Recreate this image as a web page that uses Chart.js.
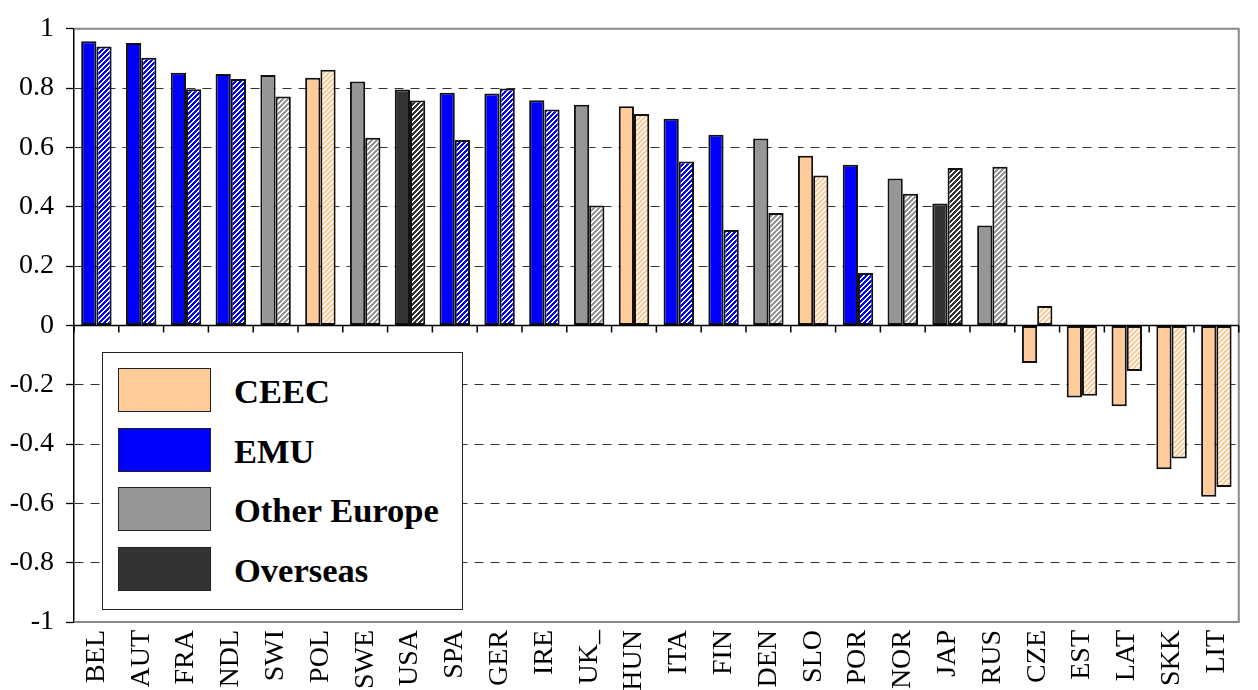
<!DOCTYPE html>
<html lang="en">
<head>
    <meta charset="UTF-8">
    <title>Correlation by country</title>
    <script src="https://cdn.jsdelivr.net/npm/chart.js"></script>
    <style>
        body { margin: 0; background: #fff; overflow: hidden; }
        .wrap { position: relative; width: 1258px; height: 690px; }
        .legend {
            position: absolute; left: 102px; top: 352px; width: 359px; height: 256px;
            background: #fff; border: 1.5px solid #222;
            font-family: "Liberation Serif", "Times New Roman", serif;
        }
        .legend .item { position: absolute; left: 15px; height: 44px; }
        .legend .swatch {
            position: absolute; left: 0; top: 0; width: 91px; height: 42px;
            border: 1.5px solid #222;
        }
        .legend .label {
            position: absolute; left: 116px; top: 1px; line-height: 44px;
            font-size: 34.5px; font-weight: bold; color: #000; white-space: nowrap;
        }
    </style>
</head>
<body>
    <div class="wrap">
        <canvas id="barChart" width="1258" height="690"></canvas>
        <div class="legend" id="legend"></div>
    </div>

    <script>
        // countries, in the order of the picture
        const categories = ['BEL', 'AUT', 'FRA', 'NDL', 'SWI', 'POL', 'SWE', 'USA', 'SPA', 'GER', 'IRE', 'UK_', 'HUN',
            'ITA', 'FIN', 'DEN', 'SLO', 'POR', 'NOR', 'JAP', 'RUS', 'CZE', 'EST', 'LAT', 'SKK', 'LIT'];

        const groups = ['EMU', 'EMU', 'EMU', 'EMU', 'Other Europe', 'CEEC', 'Other Europe', 'Overseas', 'EMU', 'EMU',
            'EMU', 'Other Europe', 'CEEC', 'EMU', 'EMU', 'Other Europe', 'CEEC', 'EMU', 'Other Europe', 'Overseas',
            'Other Europe', 'CEEC', 'CEEC', 'CEEC', 'CEEC', 'CEEC'];

        // solid bars
        const solidValues = [0.958, 0.952, 0.852, 0.848, 0.844, 0.835, 0.822, 0.795, 0.784, 0.782, 0.759, 0.744, 0.739,
            0.697, 0.643, 0.630, 0.572, 0.542, 0.495, 0.411, 0.337, -0.127, -0.243, -0.273, -0.485, -0.578];

        // hatched bars
        const hatchedValues = [0.940, 0.902, 0.796, 0.831, 0.772, 0.862, 0.633, 0.758, 0.625, 0.799, 0.728, 0.404, 0.713,
            0.553, 0.322, 0.379, 0.505, 0.177, 0.444, 0.531, 0.535, 0.065, -0.237, -0.154, -0.449, -0.545];

        const legendGroups = ['CEEC', 'EMU', 'Other Europe', 'Overseas'];
        const yTicks = [-1, -0.8, -0.6, -0.4, -0.2, 0, 0.2, 0.4, 0.6, 0.8, 1];

        const groupColors = {
            'CEEC': '#FFCC99',
            'EMU': '#0000FF',
            'Other Europe': '#969696',
            'Overseas': '#333333'
        };

        const serif = '"Liberation Serif", "Times New Roman", serif';

        // crisp diagonal stripes on white, pixel by pixel
        function hatch(color) {
            const n = 5;
            const c = document.createElement('canvas');
            c.width = n; c.height = n;
            const g = c.getContext('2d');
            g.fillStyle = '#fff';
            g.fillRect(0, 0, n, n);
            g.fillStyle = color;
            for (let x = 0; x < n; x++) {
                for (let y = 0; y < n; y++) {
                    if ((x + y) % n < 3) g.fillRect(x, y, 1, 1);
                }
            }
            return g.createPattern(c, 'repeat');
        }

        const hatchCache = {};
        for (const k in groupColors) hatchCache[k] = hatch(groupColors[k]);

        // zero axis with tick marks and the grey plot frame
        const axisLines = {
            id: 'axisLines',
            afterDatasetsDraw(chart) {
                const { ctx, chartArea: a, scales } = chart;
                const y0 = scales.y.getPixelForValue(0);
                ctx.save();
                ctx.strokeStyle = '#888';
                ctx.lineWidth = 2;
                ctx.beginPath();
                ctx.moveTo(a.left, a.top); ctx.lineTo(a.right, a.top); ctx.lineTo(a.right, a.bottom); ctx.lineTo(a.left, a.bottom);
                ctx.stroke();

                ctx.strokeStyle = '#000';
                ctx.lineWidth = 1.5;
                ctx.beginPath();
                ctx.moveTo(a.left, y0); ctx.lineTo(a.right, y0);
                const step = (a.right - a.left) / categories.length;
                for (let i = 0; i <= categories.length; i++) {
                    const x = a.left + i * step;
                    ctx.moveTo(x, y0); ctx.lineTo(x, y0 + 7);
                }
                ctx.stroke();
                ctx.restore();
            }
        };

        const ctxBar = document.getElementById('barChart').getContext('2d');
        const barChart = new Chart(ctxBar, {
            type: 'bar',
            data: {
                labels: categories,
                datasets: [{
                    label: 'solid',
                    data: solidValues,
                    backgroundColor: groups.map(g => groupColors[g]),
                    borderColor: '#111',
                    borderWidth: 2,
                    borderSkipped: false
                }, {
                    label: 'hatched',
                    data: hatchedValues,
                    backgroundColor: groups.map(g => hatchCache[g]),
                    borderColor: '#111',
                    borderWidth: 2,
                    borderSkipped: false
                }]
            },
            options: {
                responsive: false,
                animation: false,
                events: [],
                categoryPercentage: 0.68,
                barPercentage: 1,
                layout: { padding: { top: 20, right: 2, left: 0, bottom: 0 } },
                plugins: {
                    legend: { display: false },
                    tooltip: { enabled: false }
                },
                scales: {
                    x: {
                        grid: { display: false, drawTicks: false },
                        border: { display: false },
                        ticks: {
                            minRotation: 90,
                            maxRotation: 90,
                            padding: 8,
                            color: '#000',
                            font: { family: serif, size: 28 }
                        },
                        afterFit(scale) { scale.height = 68; }
                    },
                    y: {
                        min: -1,
                        max: 1,
                        afterBuildTicks(scale) { scale.ticks = yTicks.map(v => ({ value: v })); },
                        grid: {
                            color(c) {
                                const v = c.tick ? c.tick.value : 0;
                                if (Math.abs(v) < 1e-9 || Math.abs(Math.abs(v) - 1) < 1e-9) return 'rgba(0,0,0,0)';
                                return '#333';
                            },
                            lineWidth: 1,
                            tickColor: '#000',
                            tickLength: 8,
                            tickWidth: 1.3
                        },
                        border: { display: true, color: '#000', width: 1.5, dash: [9, 7] },
                        ticks: {
                            padding: 12,
                            color: '#000',
                            font: { family: serif, size: 28 },
                            callback: v => String(Math.round(v * 10) / 10)
                        },
                        afterFit(scale) { scale.width = 74; }
                    }
                }
            },
            plugins: [axisLines]
        });

        // legend box in the lower left
        const legendEl = document.getElementById('legend');
        legendGroups.forEach((g, i) => {
            const item = document.createElement('div');
            item.className = 'item';
            item.style.top = (15 + i * 59.5) + 'px';
            const sw = document.createElement('div');
            sw.className = 'swatch';
            sw.style.background = groupColors[g];
            const lb = document.createElement('div');
            lb.className = 'label';
            lb.textContent = g;
            item.appendChild(sw);
            item.appendChild(lb);
            legendEl.appendChild(item);
        });
    </script>
</body>
</html>
